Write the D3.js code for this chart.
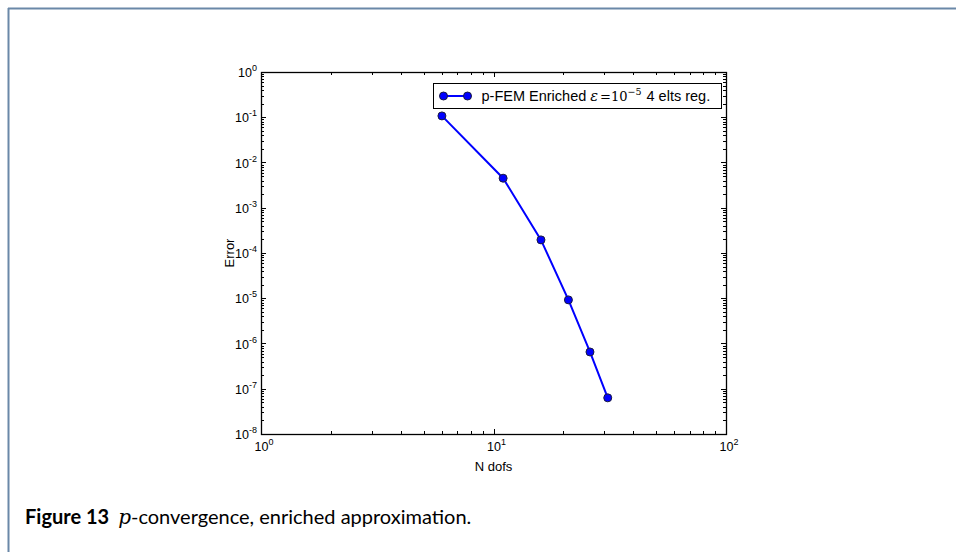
<!DOCTYPE html>
<html>
<head>
<meta charset="utf-8">
<script src="https://cdn.jsdelivr.net/npm/d3@7"></script>
<style>
  body { margin: 0; background: #fff; }
  svg text { font-family: "Liberation Sans", Arial, sans-serif; }
</style>
</head>
<body>
<div id="chart"></div>
<script>
// sizes
const WIDTH = 956
const HEIGHT = 552
const MARGINS = {left: 261, right: 230, top: 72, bottom: 118};

// data: p-FEM enriched, 4 elements
const dofs = [6, 11, 16, 21, 26, 31];
const errors = [0.107, 4.5e-3, 1.95e-4, 9.2e-6, 6.5e-7, 6.3e-8];
const xDecades = [0, 1, 2];
const yDecades = [0, -1, -2, -3, -4, -5, -6, -7, -8];

const SVG = d3.select("#chart")
  .append("svg")
    .attr("width", WIDTH)
    .attr("height", HEIGHT);

// page frame lines (top and left)
SVG.append("line")
  .attr("x1", 8).attr("x2", WIDTH).attr("y1", 8.5).attr("y2", 8.5)
  .attr("stroke", "#6a88a8").attr("stroke-width", 2);
SVG.append("line")
  .attr("x1", 8.5).attr("x2", 8.5).attr("y1", 8).attr("y2", HEIGHT)
  .attr("stroke", "#6a88a8").attr("stroke-width", 2);

const X = d3.scaleLog()
  .domain([1, 100])
  .range([MARGINS.left, WIDTH - MARGINS.right]);

const Y = d3.scaleLog()
  .domain([1e-8, 1])
  .range([HEIGHT - MARGINS.bottom, MARGINS.top]);

const x0 = X.range()[0], x1 = X.range()[1];
const y0 = Y.range()[0], y1 = Y.range()[1];

// minor + major ticks, drawn inward on all four sides
const xMinor = [];
for (let d = 0; d < 2; d++) for (let k = 2; k <= 9; k++) xMinor.push(k * Math.pow(10, d));
const yMinor = [];
for (let d = -8; d < 0; d++) for (let k = 2; k <= 9; k++) yMinor.push(k * Math.pow(10, d));

const ticks = SVG.append("g").attr("stroke", "#000").attr("stroke-width", 1);

xMinor.forEach(v => {
  const x = Math.round(X(v)) + 0.5;
  ticks.append("line").attr("x1", x).attr("x2", x).attr("y1", y0).attr("y2", y0 - 3);
  ticks.append("line").attr("x1", x).attr("x2", x).attr("y1", y1).attr("y2", y1 + 3);
});
xDecades.forEach(e => {
  const x = Math.round(X(Math.pow(10, e))) + 0.5;
  ticks.append("line").attr("x1", x).attr("x2", x).attr("y1", y0).attr("y2", y0 - 5);
  ticks.append("line").attr("x1", x).attr("x2", x).attr("y1", y1).attr("y2", y1 + 5);
});
yMinor.forEach(v => {
  const y = Math.round(Y(v)) + 0.5;
  ticks.append("line").attr("x1", x0).attr("x2", x0 + 3).attr("y1", y).attr("y2", y);
  ticks.append("line").attr("x1", x1).attr("x2", x1 - 3).attr("y1", y).attr("y2", y);
});
yDecades.forEach(e => {
  const y = Math.round(Y(Math.pow(10, e))) + 0.5;
  ticks.append("line").attr("x1", x0).attr("x2", x0 + 5).attr("y1", y).attr("y2", y);
  ticks.append("line").attr("x1", x1).attr("x2", x1 - 5).attr("y1", y).attr("y2", y);
});

// axes box
SVG.append("rect")
  .attr("x", x0 + 0.5).attr("y", y1 + 0.5)
  .attr("width", x1 - x0).attr("height", y0 - y1)
  .attr("fill", "none").attr("stroke", "#000").attr("stroke-width", 1.3);

// tick labels as 10^n
function powLabel(g, x, y, exp, anchor) {
  const t = g.append("text")
    .attr("x", x).attr("y", y)
    .attr("text-anchor", anchor)
    .attr("font-size", 12.5);
  t.append("tspan").text("10");
  t.append("tspan").attr("dy", -6).attr("font-size", 9).text(exp);
}

const labels = SVG.append("g");
xDecades.forEach(e => powLabel(labels, X(Math.pow(10, e)) + 3, y0 + 17, e, "middle"));
yDecades.forEach(e => powLabel(labels, x0 - 4, Y(Math.pow(10, e)) + 5, e, "end"));

// axis titles
SVG.append("text")
  .attr("x", (x0 + x1) / 2).attr("y", y0 + 37)
  .attr("text-anchor", "middle").attr("font-size", 13)
  .text("N dofs");
SVG.append("text")
  .attr("transform", `translate(${x0 - 27},${(y0 + y1) / 2}) rotate(-90)`)
  .attr("text-anchor", "middle").attr("font-size", 13)
  .text("Error");

// series
const pts = dofs.map((d, i) => [d, errors[i]]);
SVG.append("path")
  .datum(pts)
  .attr("fill", "none")
  .attr("stroke", "#0000ff")
  .attr("stroke-width", 2)
  .attr("d", d3.line().x(d => X(d[0])).y(d => Y(d[1])));

SVG.selectAll(".pt")
  .data(pts)
  .enter()
  .append("circle")
    .attr("class", "pt")
    .attr("cx", d => X(d[0]))
    .attr("cy", d => Y(d[1]))
    .attr("r", 4)
    .attr("fill", "#0000ff")
    .attr("stroke", "#1a1a40")
    .attr("stroke-width", 1);

// legend
const LEG = SVG.append("g").attr("transform", "translate(433.5,83.5)");
LEG.append("rect")
  .attr("width", 288).attr("height", 25)
  .attr("fill", "#fff").attr("stroke", "#000").attr("stroke-width", 1);
LEG.append("line")
  .attr("x1", 10).attr("x2", 34).attr("y1", 12.5).attr("y2", 12.5)
  .attr("stroke", "#0000ff").attr("stroke-width", 2);
[10, 34].forEach(cx => LEG.append("circle")
  .attr("cx", cx).attr("cy", 12.5).attr("r", 4)
  .attr("fill", "#0000ff").attr("stroke", "#1a1a40").attr("stroke-width", 1));
const lt = LEG.append("text").attr("x", 48).attr("y", 17.5).attr("font-size", 14.5);
lt.append("tspan").text("p-FEM Enriched ");
lt.append("tspan").attr("font-family", "DejaVu Serif, serif").attr("font-style", "italic").text("\u03B5");
lt.append("tspan").attr("font-family", "DejaVu Serif, serif").attr("dx", 2).attr("font-size", 13).text("=10");
lt.append("tspan").attr("font-family", "DejaVu Serif, serif").attr("dy", -6).attr("font-size", 9.5).text("\u22125");
lt.append("tspan").attr("dy", 6).attr("dx", 5).text("4 elts reg.");

// caption
const cap = SVG.append("text")
  .attr("x", 25).attr("y", 524)
  .attr("font-size", 20)
  .style("font-family", "Lato, 'DejaVu Sans', sans-serif");
cap.append("tspan").attr("font-weight", "bold").text("Figure 13");
cap.append("tspan").attr("dx", 9).style("font-family", "'DejaVu Serif', serif").attr("font-style", "italic").text("p");
cap.append("tspan").text("-convergence, enriched approximation.");
</script>
</body>
</html>
